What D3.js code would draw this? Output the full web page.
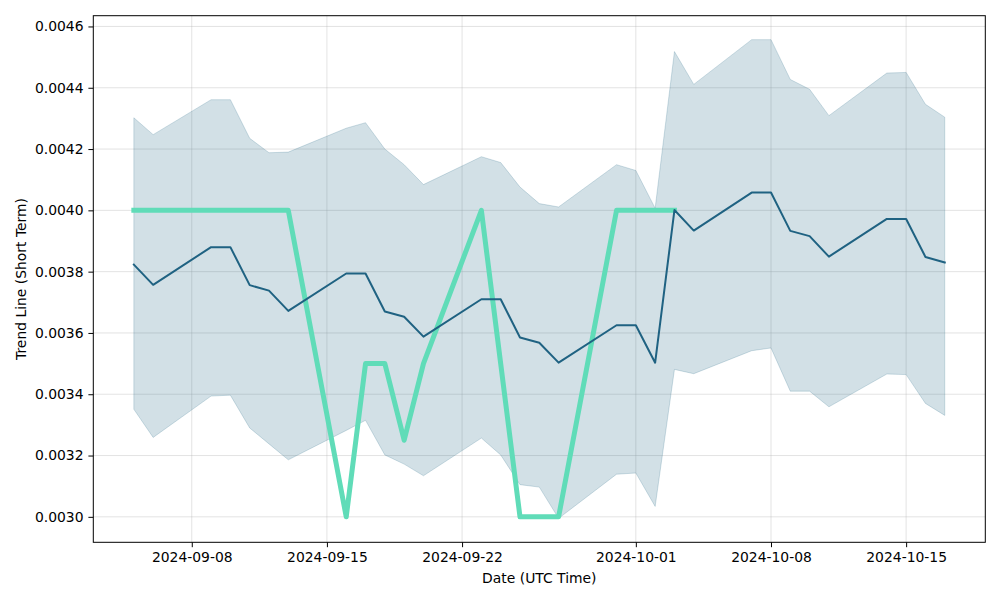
<!DOCTYPE html>
<html>
<head>
<meta charset="utf-8">
<script src="https://cdn.jsdelivr.net/npm/d3@7"></script>
<style>
  html, body { margin: 0; padding: 0; background: #fff; }
  svg text { font-family: "DejaVu Sans", sans-serif; fill: #000; }
</style>
</head>
<body>
<svg id="chart" width="1000" height="600"></svg>
<script>
// ---- data ----
const dates = ["2024-09-05","2024-09-06","2024-09-09","2024-09-10","2024-09-11","2024-09-12","2024-09-13",
  "2024-09-16","2024-09-17","2024-09-18","2024-09-19","2024-09-20","2024-09-23","2024-09-24","2024-09-25",
  "2024-09-26","2024-09-27","2024-09-30","2024-10-01","2024-10-02","2024-10-03","2024-10-04","2024-10-07",
  "2024-10-08","2024-10-09","2024-10-10","2024-10-11","2024-10-14","2024-10-15","2024-10-16","2024-10-17"];
const meanValues = [0.003823,0.003757,0.003880,0.003880,0.003756,0.003738,0.003672,
  0.003794,0.003794,0.003670,0.003653,0.003588,0.003710,0.003710,0.003585,
  0.003568,0.003503,0.003625,0.003625,0.003503,0.004001,0.003934,0.004058,
  0.004058,0.003933,0.003916,0.003849,0.003972,0.003972,0.003848,0.003830];
const upperValues = [0.004302,0.004247,0.004361,0.004361,0.004235,0.004188,0.004190,
  0.004268,0.004286,0.004200,0.004149,0.004084,0.004175,0.004156,0.004076,
  0.004022,0.004011,0.004149,0.004130,0.004007,0.004518,0.004411,0.004557,
  0.004557,0.004427,0.004395,0.004309,0.004448,0.004450,0.004346,0.004304];
const lowerValues = [0.003351,0.003259,0.003394,0.003397,0.003290,0.003238,0.003186,
  0.003282,0.003315,0.003202,0.003172,0.003134,0.003257,0.003202,0.003105,
  0.003097,0.002995,0.003139,0.003143,0.003034,0.003481,0.003467,0.003542,
  0.003551,0.003410,0.003410,0.003359,0.003466,0.003464,0.003370,0.003331];
const trendDates = ["2024-09-05","2024-09-06","2024-09-09","2024-09-10","2024-09-11","2024-09-12","2024-09-13",
  "2024-09-16","2024-09-17","2024-09-18","2024-09-19","2024-09-20","2024-09-23","2024-09-24","2024-09-25",
  "2024-09-26","2024-09-27","2024-09-30","2024-10-01","2024-10-02","2024-10-03"];
const trendValues = [0.0040,0.0040,0.0040,0.0040,0.0040,0.0040,0.0040,
  0.0030,0.0035,0.0035,0.00325,0.0035,0.0040,0.0035,0.0030,
  0.0030,0.0030,0.0040,0.0040,0.0040,0.0040];
const xTickLabels = ["2024-09-08","2024-09-15","2024-09-22","2024-10-01","2024-10-08","2024-10-15"];
const yTickValues = [0.0030,0.0032,0.0034,0.0036,0.0038,0.0040,0.0042,0.0044,0.0046];

// ---- layout ----
const margin = {left: 93.3, right: 1000 - 985.3, top: 15.7, bottom: 600 - 542.3};
const W = 1000, H = 600;
const svg = d3.select("#chart");
const parse = d3.utcParse("%Y-%m-%d");

const band = dates.map((d, i) => ({date: parse(d), mean: meanValues[i], lo: lowerValues[i], hi: upperValues[i]}));
const trend = trendDates.map((d, i) => ({date: parse(d), v: trendValues[i]}));

const xExt = d3.extent(band, d => d.date);
const span = xExt[1] - xExt[0];
const x = d3.scaleUtc()
  .domain([new Date(+xExt[0] - span * 0.05), new Date(+xExt[1] + span * 0.05)])
  .range([margin.left, W - margin.right]);

const yMin = d3.min([...lowerValues, ...meanValues, ...trendValues]);
const yMax = d3.max([...upperValues, ...meanValues, ...trendValues]);
const yPad = (yMax - yMin) * 0.05;
const y = d3.scaleLinear()
  .domain([yMin - yPad, yMax + yPad])
  .range([H - margin.bottom, margin.top]);

const xTicks = xTickLabels.map(parse);

// grid
const grid = svg.append("g");
grid.selectAll("line.gx").data(xTicks).enter().append("line")
  .attr("x1", d => x(d)).attr("x2", d => x(d))
  .attr("y1", margin.top).attr("y2", H - margin.bottom)
  .attr("stroke", "#b0b0b0").attr("stroke-opacity", 0.35).attr("stroke-width", 1);
grid.selectAll("line.gy").data(yTickValues).enter().append("line")
  .attr("y1", d => y(d)).attr("y2", d => y(d))
  .attr("x1", margin.left).attr("x2", W - margin.right)
  .attr("stroke", "#b0b0b0").attr("stroke-opacity", 0.35).attr("stroke-width", 1);

const lineColor = "#1f6282";
// band
const area = d3.area().x(d => x(d.date)).y0(d => y(d.lo)).y1(d => y(d.hi));
svg.append("path").datum(band)
  .attr("d", area)
  .attr("fill", lineColor).attr("fill-opacity", 0.2)
  .attr("stroke", lineColor).attr("stroke-opacity", 0.2).attr("stroke-width", 1);

// trend (green)
const trendLine = d3.line().x(d => x(d.date)).y(d => y(d.v));
svg.append("path").datum(trend)
  .attr("d", trendLine)
  .attr("fill", "none").attr("stroke", "#60dcb8").attr("stroke-width", 5)
  .attr("stroke-linejoin", "round").attr("stroke-linecap", "square");

// mean line
const meanLine = d3.line().x(d => x(d.date)).y(d => y(d.mean));
svg.append("path").datum(band)
  .attr("d", meanLine)
  .attr("fill", "none").attr("stroke", lineColor).attr("stroke-width", 2)
  .attr("stroke-linejoin", "round").attr("stroke-linecap", "square");

// axes
const fs = "13.9px";
const xAxis = d3.axisBottom(x).tickValues(xTicks).tickFormat(d3.utcFormat("%Y-%m-%d"))
  .tickSizeInner(4.9).tickSizeOuter(0).tickPadding(4.9);
const gx = svg.append("g").attr("transform", `translate(0,${H - margin.bottom})`).call(xAxis);
gx.select(".domain").remove();
gx.selectAll("text").style("font-size", fs).attr("fill", "#000");
gx.selectAll("line").attr("stroke", "#000").attr("stroke-width", 1);

const yAxis = d3.axisLeft(y).tickValues(yTickValues).tickFormat(d3.format(".4f"))
  .tickSizeInner(4.9).tickSizeOuter(0).tickPadding(4.9);
const gy = svg.append("g").attr("transform", `translate(${margin.left},0)`).call(yAxis);
gy.select(".domain").remove();
gy.selectAll("text").style("font-size", fs).attr("fill", "#000");
gy.selectAll("line").attr("stroke", "#000").attr("stroke-width", 1);

// frame
svg.append("rect")
  .attr("x", margin.left).attr("y", margin.top)
  .attr("width", W - margin.right - margin.left).attr("height", H - margin.bottom - margin.top)
  .attr("fill", "none").attr("stroke", "#000").attr("stroke-width", 1);

// axis labels
svg.append("text").attr("x", (margin.left + W - margin.right) / 2).attr("y", 583)
  .attr("text-anchor", "middle").style("font-size", fs).text("Date (UTC Time)");
svg.append("text").attr("transform", `translate(26,${(margin.top + H - margin.bottom) / 2}) rotate(-90)`)
  .attr("text-anchor", "middle").style("font-size", fs).text("Trend Line (Short Term)");
</script>
</body>
</html>
